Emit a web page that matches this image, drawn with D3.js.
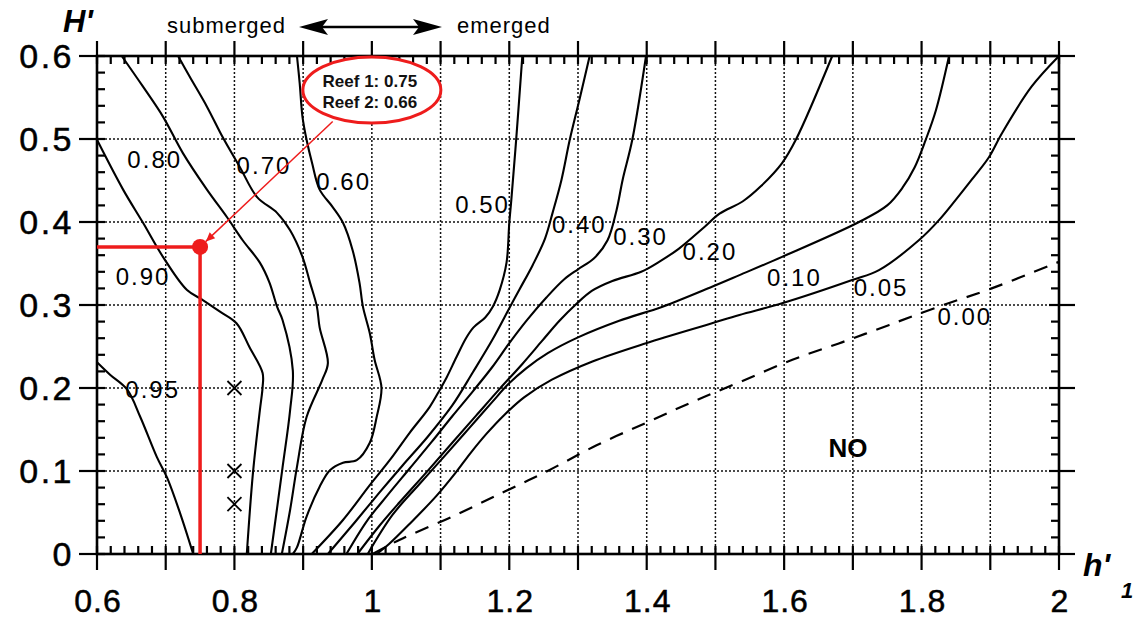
<!DOCTYPE html>
<html>
<head>
<meta charset="utf-8">
<script src="https://cdn.jsdelivr.net/npm/d3@7"></script>
<style>
  body { margin: 0; background: #fff; }
  text { font-family: "Liberation Sans", Arial, Helvetica, sans-serif; }
</style>
</head>
<body>
<svg id="chart" width="1137" height="619"></svg>
<script>
// ---- axis ticks ----
const xTickValues = [0.6, 0.8, 1, 1.2, 1.4, 1.6, 1.8, 2];
const xTickLabels = ["0.6", "0.8", "1", "1.2", "1.4", "1.6", "1.8", "2"];
const yTickValues = [0, 0.1, 0.2, 0.3, 0.4, 0.5, 0.6];
const yTickLabels = ["0", "0.1", "0.2", "0.3", "0.4", "0.5", "0.6"];

// ---- transmission coefficient contours [h'1, H'] ----
const c95 = [[0.6,0.231],[0.619,0.216],[0.644,0.198],[0.663,0.165],[0.687,0.117],[0.702,0.092],[0.721,0.049],[0.740,0]];
const c90 = [[0.6,0.499],[0.638,0.439],[0.667,0.399],[0.696,0.358],[0.731,0.318],[0.754,0.306],[0.779,0.292],[0.803,0.278],[0.822,0.249],[0.841,0.218],[0.841,0.201],[0.837,0.173],[0.827,0.098],[0.818,0]];
const c80 = [[0.636,0.6],[0.667,0.563],[0.696,0.527],[0.725,0.483],[0.760,0.439],[0.789,0.406],[0.812,0.378],[0.837,0.351],[0.851,0.327],[0.862,0.298],[0.870,0.282],[0.885,0.221],[0.881,0.173],[0.870,0.104],[0.853,0]];
const c70 = [[0.718,0.6],[0.735,0.575],[0.760,0.539],[0.783,0.502],[0.808,0.466],[0.833,0.430],[0.862,0.411],[0.881,0.390],[0.899,0.358],[0.910,0.327],[0.920,0.298],[0.924,0.273],[0.936,0.230],[0.928,0.210],[0.905,0.165],[0.891,0.105],[0.881,0.053],[0.869,0]];
const c60 = [[0.891,0.6],[0.895,0.567],[0.899,0.527],[0.905,0.499],[0.913,0.471],[0.924,0.439],[0.943,0.418],[0.958,0.399],[0.972,0.366],[0.982,0.327],[0.987,0.298],[0.997,0.266],[1.004,0.234],[1.014,0.200],[1.007,0.165],[0.997,0.134],[0.978,0.113],[0.958,0.110],[0.939,0.101],[0.924,0.081],[0.905,0.045],[0.891,0.008],[0.885,0]];
const c50 = [[1.219,0.6],[1.210,0.499],[1.203,0.427],[1.200,0.399],[1.196,0.351],[1.186,0.318],[1.176,0.298],[1.165,0.285],[1.148,0.273],[1.137,0.260],[1.123,0.237],[1.109,0.213],[1.099,0.198],[1.084,0.177],[1.055,0.146],[1.026,0.113],[0.997,0.083],[0.958,0.041],[0.9125,0]];
const c40 = [[1.317,0.6],[1.302,0.547],[1.288,0.499],[1.276,0.451],[1.263,0.411],[1.252,0.380],[1.234,0.348],[1.215,0.319],[1.200,0.296],[1.176,0.259],[1.147,0.219],[1.117,0.179],[1.081,0.141],[1.045,0.107],[1.010,0.073],[0.975,0.038],[0.936,0]];
const c30 = [[1.399,0.6],[1.379,0.499],[1.365,0.451],[1.356,0.414],[1.343,0.378],[1.323,0.356],[1.300,0.343],[1.280,0.331],[1.254,0.309],[1.226,0.282],[1.200,0.254],[1.175,0.225],[1.147,0.196],[1.117,0.166],[1.087,0.135],[1.055,0.103],[1.022,0.070],[0.993,0.040],[0.963,0]];
const c20 = [[1.670,0.6],[1.617,0.499],[1.597,0.471],[1.566,0.443],[1.540,0.425],[1.506,0.410],[1.484,0.394],[1.447,0.368],[1.418,0.352],[1.392,0.340],[1.350,0.329],[1.320,0.317],[1.296,0.300],[1.273,0.281],[1.248,0.257],[1.219,0.229],[1.186,0.199],[1.152,0.167],[1.117,0.134],[1.080,0.099],[1.040,0.062],[1.011,0.034],[0.979,0]];
const c10 = [[1.840,0.6],[1.821,0.535],[1.806,0.499],[1.790,0.466],[1.772,0.441],[1.750,0.420],[1.709,0.400],[1.597,0.358],[1.535,0.336],[1.495,0.322],[1.423,0.298],[1.360,0.281],[1.300,0.261],[1.256,0.242],[1.225,0.224],[1.199,0.205],[1.175,0.183],[1.142,0.152],[1.108,0.120],[1.069,0.084],[1.030,0.047],[0.994,0]];
const c05 = [[2.0,0.6],[1.960,0.563],[1.917,0.507],[1.898,0.478],[1.873,0.451],[1.850,0.427],[1.825,0.402],[1.796,0.378],[1.738,0.342],[1.699,0.330],[1.597,0.302],[1.535,0.288],[1.495,0.278],[1.399,0.254],[1.321,0.232],[1.262,0.210],[1.222,0.189],[1.192,0.167],[1.167,0.145],[1.143,0.121],[1.122,0.098],[1.094,0.070],[1.057,0.038],[1.025,0.012],[1.007,0]];
const c00 = [[1.001,0],[1.040,0.017],[1.117,0.045],[1.190,0.074],[1.258,0.101],[1.327,0.131],[1.399,0.158],[1.466,0.183],[1.535,0.207],[1.612,0.234],[1.684,0.255],[1.753,0.276],[1.825,0.298],[1.902,0.320],[2.0,0.352]];

const solidContours = [c95, c90, c80, c70, c60, c50, c40, c30, c20, c10, c05];

// contour value labels (text centre in data units)
const labelText = ["0.95", "0.90", "0.80", "0.70", "0.60", "0.50", "0.40", "0.30", "0.20", "0.10", "0.05", "0.00"];
const labelX    = [0.681, 0.667, 0.684, 0.843, 0.959, 1.161, 1.302, 1.391, 1.492, 1.615, 1.741, 1.863];
const labelY    = [0.199, 0.335, 0.476, 0.469, 0.449, 0.422, 0.398, 0.383, 0.365, 0.334, 0.322, 0.287];

// tested cases
const crossPoints = [[0.8, 0.2], [0.8, 0.1], [0.8, 0.06]];

// reef design point
const reefPoint = [0.75, 0.37];
const reefText = ["Reef 1: 0.75", "Reef 2: 0.66"];
const calloutCentre = [1.0, 0.559];
const arrowStart = [0.943, 0.521];

// ---- layout ----
const svg = d3.select("#chart");
svg.append("rect").attr("width", 1137).attr("height", 619).attr("fill", "#fff");

const x = d3.scaleLinear().domain([0.6, 2]).range([97, 1059]);
const y = d3.scaleLinear().domain([0, 0.6]).range([554, 56]);

const x0 = x(0.6), x1 = x(2), yB = y(0), yT = y(0.6);

const xMajor = d3.range(6, 21).map(d => d / 10);
const xMinor = d3.range(30, 101).filter(d => d % 5 !== 0).map(d => d / 50);
const yMajor = d3.range(0, 7).map(d => d / 10);
const yMinor = d3.range(0, 31).filter(d => d % 5 !== 0).map(d => d / 50);

// dotted grid
const grid = svg.append("g").attr("stroke", "#111").attr("stroke-width", 1.5).attr("stroke-dasharray", "2,2");
grid.selectAll(".gx").data(xMajor.slice(1, -1)).join("line")
  .attr("x1", d => x(d)).attr("x2", d => x(d)).attr("y1", yT).attr("y2", yB);
grid.selectAll(".gy").data(yMajor.slice(1, -1)).join("line")
  .attr("y1", d => y(d)).attr("y2", d => y(d)).attr("x1", x0).attr("x2", x1);

// contours
const line = d3.line().x(d => x(d[0])).y(d => y(d[1])).curve(d3.curveCatmullRom.alpha(0.5));
svg.append("g").selectAll("path").data(solidContours).join("path")
  .attr("d", line).attr("fill", "none").attr("stroke", "#000").attr("stroke-width", 2.1)
  .attr("stroke-linejoin", "round");
svg.append("path").datum(c00).attr("d", line).attr("fill", "none")
  .attr("stroke", "#000").attr("stroke-width", 2.2).attr("stroke-dasharray", "14,10");

// frame and ticks
const ax = svg.append("g").attr("stroke", "#000").attr("stroke-width", 2.2);
ax.append("rect").attr("x", x0).attr("y", yT).attr("width", x1 - x0).attr("height", yB - yT)
  .attr("fill", "none").attr("stroke-width", 2.6);
// bottom
ax.selectAll(".bM").data(xMajor).join("line").attr("x1", d => x(d)).attr("x2", d => x(d)).attr("y1", yB - 8).attr("y2", yB + 16);
ax.selectAll(".bm").data(xMinor).join("line").attr("x1", d => x(d)).attr("x2", d => x(d)).attr("y1", yB - 8).attr("y2", yB);
// top
ax.selectAll(".tM").data(xMajor).join("line").attr("x1", d => x(d)).attr("x2", d => x(d)).attr("y1", yT - 15).attr("y2", yT + 8);
ax.selectAll(".tm").data(xMinor).join("line").attr("x1", d => x(d)).attr("x2", d => x(d)).attr("y1", yT).attr("y2", yT + 8);
// left
ax.selectAll(".lM").data(yMajor).join("line").attr("y1", d => y(d)).attr("y2", d => y(d)).attr("x1", x0 - 18).attr("x2", x0 + 8);
ax.selectAll(".lm").data(yMinor).join("line").attr("y1", d => y(d)).attr("y2", d => y(d)).attr("x1", x0).attr("x2", x0 + 8);
// right
ax.selectAll(".rM").data(yMajor).join("line").attr("y1", d => y(d)).attr("y2", d => y(d)).attr("x1", x1 - 10).attr("x2", x1 + 16);
ax.selectAll(".rm").data(yMinor).join("line").attr("y1", d => y(d)).attr("y2", d => y(d)).attr("x1", x1 - 8).attr("x2", x1);

// tick labels
svg.append("g").selectAll("text").data(xTickValues).join("text")
  .attr("x", d => x(d) + 1).attr("y", 612).attr("text-anchor", "middle")
  .attr("font-size", 32).attr("letter-spacing", 1).attr("fill", "#000")
  .attr("stroke", "#000").attr("stroke-width", 0.5)
  .text((d, i) => xTickLabels[i]);
svg.append("g").selectAll("text").data(yTickValues).join("text")
  .attr("x", 74).attr("y", d => y(d) + 12).attr("text-anchor", "end")
  .attr("font-size", 34).attr("letter-spacing", 2.5).attr("fill", "#000")
  .attr("stroke", "#000").attr("stroke-width", 0.5)
  .text((d, i) => yTickLabels[i]);

// axis titles
svg.append("text").attr("x", 63).attr("y", 32).attr("font-size", 31)
  .attr("font-weight", "bold").attr("font-style", "italic").text("H'");
const hx = svg.append("text").attr("x", 1083).attr("y", 576).attr("font-size", 32)
  .attr("font-weight", "bold").attr("font-style", "italic");
hx.append("tspan").text("h'");
hx.append("tspan").attr("x", 1121).attr("y", 598).attr("font-size", 22).text("1");

// submerged / emerged
svg.append("text").attr("x", 167).attr("y", 33).attr("font-size", 22).attr("letter-spacing", 1).text("submerged");
svg.append("text").attr("x", 457).attr("y", 33).attr("font-size", 22).attr("letter-spacing", 1).text("emerged");
const arrowY = 27;
svg.append("line").attr("x1", 318).attr("x2", 424).attr("y1", arrowY).attr("y2", arrowY)
  .attr("stroke", "#000").attr("stroke-width", 2.6);
svg.append("path").attr("d", `M299,${arrowY} L328,${arrowY - 8} L322,${arrowY} L328,${arrowY + 8} Z`).attr("fill", "#000");
svg.append("path").attr("d", `M442,${arrowY} L413,${arrowY - 8} L419,${arrowY} L413,${arrowY + 8} Z`).attr("fill", "#000");

// contour labels
svg.append("g").selectAll("text").data(labelText).join("text")
  .attr("x", (d, i) => x(labelX[i])).attr("y", (d, i) => y(labelY[i]) + 9)
  .attr("text-anchor", "middle").attr("font-size", 24).attr("letter-spacing", 2)
  .attr("fill", "#000").text(d => d);

// tested cases
const cr = 7;
const crosses = svg.append("g").attr("stroke", "#000").attr("stroke-width", 1.8);
crosses.selectAll(".a").data(crossPoints).join("line")
  .attr("x1", d => x(d[0]) - cr).attr("x2", d => x(d[0]) + cr)
  .attr("y1", d => y(d[1]) - cr).attr("y2", d => y(d[1]) + cr);
crosses.selectAll(".b").data(crossPoints).join("line")
  .attr("x1", d => x(d[0]) - cr).attr("x2", d => x(d[0]) + cr)
  .attr("y1", d => y(d[1]) + cr).attr("y2", d => y(d[1]) - cr);

// NO region
svg.append("text").attr("x", x(1.693)).attr("y", y(0.129) + 10).attr("text-anchor", "middle")
  .attr("font-size", 26).attr("font-weight", "bold").text("NO");

// reef design point
const red = "#ee1c1c";
const px = x(reefPoint[0]), py = y(reefPoint[1]);
svg.append("line").attr("x1", x0).attr("x2", px).attr("y1", py).attr("y2", py).attr("stroke", red).attr("stroke-width", 3.5);
svg.append("line").attr("x1", px).attr("x2", px).attr("y1", py).attr("y2", yB).attr("stroke", red).attr("stroke-width", 3.5);
svg.append("circle").attr("cx", px).attr("cy", py).attr("r", 8).attr("fill", red);

// callout arrow
const ax0 = x(arrowStart[0]), ay0 = y(arrowStart[1]);
const ang = Math.atan2(py - ay0, px - ax0);
const tipX = px - Math.cos(ang) * 8, tipY = py - Math.sin(ang) * 8;
svg.append("line").attr("x1", ax0).attr("y1", ay0).attr("x2", tipX).attr("y2", tipY)
  .attr("stroke", red).attr("stroke-width", 1.5);
const ah = 9, aw = 4;
const bx = tipX - Math.cos(ang) * ah, by = tipY - Math.sin(ang) * ah;
svg.append("path").attr("fill", red).attr("d",
  `M${tipX},${tipY} L${bx - Math.sin(ang) * aw},${by + Math.cos(ang) * aw} L${bx + Math.sin(ang) * aw},${by - Math.cos(ang) * aw} Z`);

// callout bubble
const ex = x(calloutCentre[0]), ey = y(calloutCentre[1]);
svg.append("ellipse").attr("cx", ex).attr("cy", ey).attr("rx", 69).attr("ry", 33)
  .attr("fill", "#fff").attr("stroke", red).attr("stroke-width", 3);
svg.append("g").selectAll("text").data(reefText).join("text")
  .attr("x", ex - 2).attr("y", (d, i) => ey - 3 + i * 21).attr("text-anchor", "middle")
  .attr("font-family", "Lato, 'Open Sans', sans-serif").attr("font-weight", "bold")
  .attr("font-size", 17).attr("fill", "#111").text(d => d);
</script>
</body>
</html>
